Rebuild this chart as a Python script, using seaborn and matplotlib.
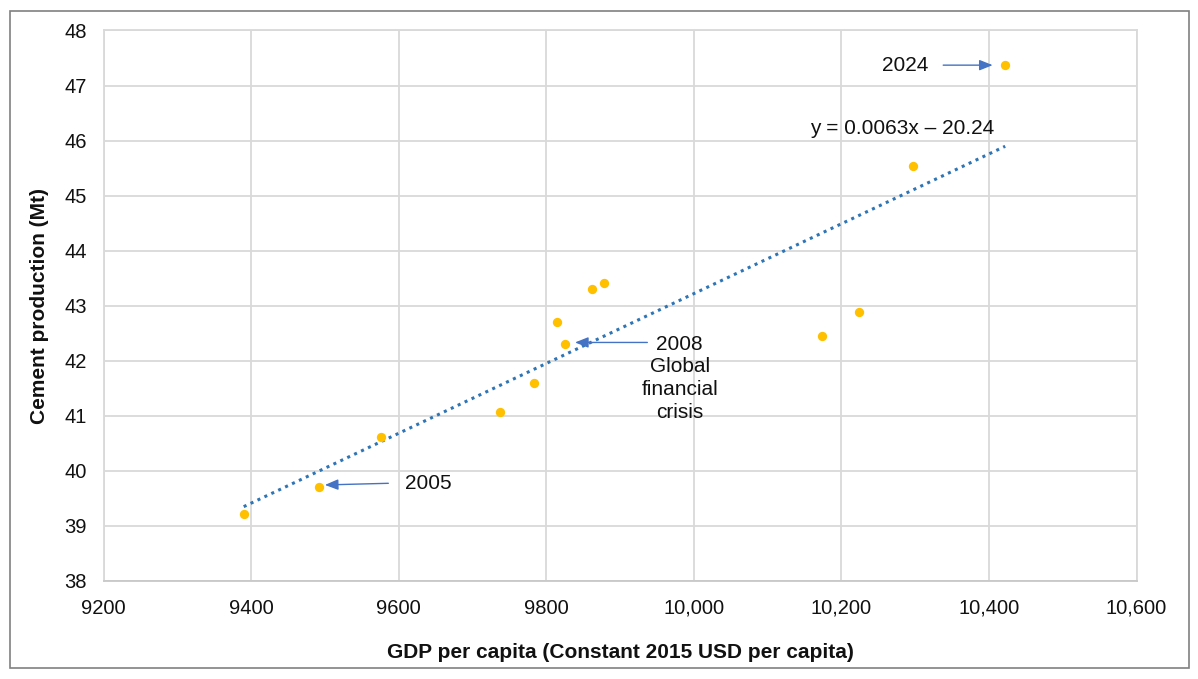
import numpy as np
import pandas as pd
import seaborn as sns
import matplotlib.pyplot as plt

# values (13 years)
gdp_per_capita = [9390, 9492, 9576, 9738, 9783, 9814, 9826, 9862, 9878, 10174, 10224, 10297, 10422]
cement_mt = [39.21, 39.70, 40.61, 41.07, 41.60, 42.70, 42.30, 43.31, 43.41, 42.44, 42.89, 45.54, 47.37]

x_ticks = [9200, 9400, 9600, 9800, 10000, 10200, 10400, 10600]
x_tick_labels = ['9200', '9400', '9600', '9800', '10,000', '10,200', '10,400', '10,600']
y_ticks = [38, 39, 40, 41, 42, 43, 44, 45, 46, 47, 48]

# annotations: (label, text position, arrow tail, arrow head)
notes = [
    ('2005', (9640, 39.76), (9586, 39.77), (9500, 39.74)),
    ('2008\nGlobal\nfinancial\ncrisis', (9981, 41.68), (9937, 42.33), (9839, 42.33)),
    ('2024', (10286, 47.37), (10338, 47.37), (10405, 47.37)),
]
equation = 'y = 0.0063x \u2013 20.24'

df = pd.DataFrame({'gdp': gdp_per_capita, 'cement': cement_mt})

sns.set_style('whitegrid')
plt.rcParams['font.family'] = ['Liberation Sans', 'DejaVu Sans']

fig = plt.figure(figsize=(11.98, 6.79), dpi=100)
ax = fig.add_axes([0.0864, 0.1448, 0.8623, 0.8103])

# trendline first so the points sit on top
sns.regplot(data=df, x='gdp', y='cement', ax=ax, scatter=False, ci=None,
            line_kws={'color': '#2E75B6', 'lw': 2.2, 'ls': (0, (1, 1.5))})
sns.scatterplot(data=df, x='gdp', y='cement', ax=ax, color='#FFC000',
                s=45, linewidth=0, zorder=3)

ax.set_xlim(9200, 10600)
ax.set_ylim(38, 48)
ax.set_xticks(x_ticks)
ax.set_xticklabels(x_tick_labels)
ax.set_yticks(y_ticks)
ax.tick_params(axis='both', labelsize=14.5, colors='#111111', length=0)
ax.tick_params(axis='x', pad=13)
ax.tick_params(axis='y', pad=12)
ax.grid(True, color='#D9D9D9', lw=1.3)
for side in ax.spines.values():
    side.set_color('#D9D9D9')
    side.set_linewidth(1.3)
ax.spines['bottom'].set_color('#C8C8C8')

ax.set_xlabel('GDP per capita (Constant 2015 USD per capita)', fontsize=15,
              fontweight='bold', labelpad=18, color='#111111')
ax.set_ylabel('Cement production (Mt)', fontsize=15, fontweight='bold',
              labelpad=11, color='#111111')

for label, txt_pos, tail, head in notes:
    ax.text(txt_pos[0], txt_pos[1], label, fontsize=15, ha='center', va='center',
            linespacing=1.24, color='#111111')
    ax.annotate('', xy=head, xytext=tail,
                arrowprops=dict(arrowstyle='-|>,head_length=0.8,head_width=0.32',
                                mutation_scale=10, color='#4472C4', lw=1,
                                shrinkA=0, shrinkB=0))

ax.text(10283, 46.22, equation, fontsize=15, ha='center', va='center', color='#111111')

# outer frame around the chart
fig.add_artist(plt.Rectangle((10 / 1198, 11 / 679), 1179 / 1198, 657 / 679,
                             transform=fig.transFigure, fill=False,
                             edgecolor='#808080', lw=1.2))

plt.savefig('out.png', dpi=100)
